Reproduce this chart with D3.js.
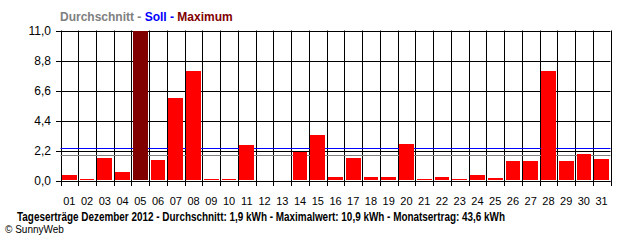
<!DOCTYPE html>
<html><head><meta charset="utf-8">
<script src="https://cdn.jsdelivr.net/npm/d3@7"></script>
<style>
html,body{margin:0;padding:0;background:#fff;}
svg{display:block;}
text{font-family:"Liberation Sans",Arial,sans-serif;}
</style></head>
<body><div id="chart"></div>
<script>
const days = ["01","02","03","04","05","06","07","08","09","10","11","12","13","14","15","16","17","18","19","20","21","22","23","24","25","26","27","28","29","30","31"];
const values = [0.34,0.1,1.59,0.56,10.9,1.44,6.0,7.96,0.1,0.1,2.54,0,0,2.08,3.28,0.19,1.64,0.24,0.24,2.67,0.1,0.24,0.1,0.34,0.17,1.42,1.42,7.96,1.42,1.93,1.57];
const yTicks = [0, 2.2, 4.4, 6.6, 8.8, 11.0];
const average = 1.9;
const target = 2.42;
const legendParts = [["Durchschnitt - ","#808080"],["Soll - ","#0000ff"],["Maximum","#800000"]];
const title = "Tageserträge Dezember 2012 - Durchschnitt: 1,9 kWh - Maximalwert: 10,9 kWh - Monatsertrag: 43,6 kWh";
const footer = "© SunnyWeb";

const W = 640, H = 240;
const svg = d3.select("#chart").append("svg").attr("width", W).attr("height", H);

const y = d3.scaleLinear().domain([0, 11]).range([180.5, 30.5]);
const xCell = d3.scaleBand().domain(days).range([60.5, 610.5]).padding(0);
const xBar = d3.scaleBand().domain(days).range([60.5, 610.5]).paddingInner(0.17).paddingOuter(0.085);

// horizontal grid
svg.append("g").selectAll("line").data(yTicks).join("line")
  .attr("x1", 56).attr("x2", 610.5)
  .attr("y1", d => Math.round(y(d)) + 0.5).attr("y2", d => Math.round(y(d)) + 0.5)
  .attr("stroke", "#000").attr("stroke-width", 1);

// vertical grid
const vx = days.map(d => xCell(d)).concat([xCell.range()[1]]);
svg.append("g").selectAll("line").data(vx).join("line")
  .attr("x1", d => Math.round(d) + 0.5).attr("x2", d => Math.round(d) + 0.5)
  .attr("y1", 30.5).attr("y2", 186)
  .attr("stroke", "#000").attr("stroke-width", 1);

// reference lines
svg.append("line").attr("x1", 60.5).attr("x2", 610.5)
  .attr("y1", Math.round(y(target)) + 0.5).attr("y2", Math.round(y(target)) + 0.5)
  .attr("stroke", "#0000ff").attr("stroke-width", 1);
svg.append("line").attr("x1", 60.5).attr("x2", 610.5)
  .attr("y1", Math.round(y(average)) + 0.5).attr("y2", Math.round(y(average)) + 0.5)
  .attr("stroke", "#808080").attr("stroke-width", 1);

// bars
const maxV = d3.max(values);
svg.append("g").attr("shape-rendering", "crispEdges").selectAll("rect").data(values).join("rect")
  .attr("x", (d, i) => xBar(days[i]))
  .attr("width", xBar.bandwidth())
  .attr("y", d => y(d) - 0.5)
  .attr("height", d => Math.max(0, y(0) - y(d)))
  .attr("fill", d => d === maxV ? "#800000" : "#ff0000");

// redraw baseline over bars
svg.append("line").attr("x1", 56).attr("x2", 610.5)
  .attr("y1", Math.round(y(0)) + 0.5).attr("y2", Math.round(y(0)) + 0.5)
  .attr("stroke", "#000");

// y labels
svg.append("g").selectAll("text").data(yTicks).join("text")
  .attr("x", 51).attr("y", d => y(d) + 4)
  .attr("text-anchor", "end").attr("font-size", 12)
  .text(d => d3.format(".1f")(d).replace(".", ","));

// x labels
svg.append("g").selectAll("text").data(days).join("text")
  .attr("x", d => xCell(d) + xCell.bandwidth() / 2).attr("y", 205)
  .attr("text-anchor", "middle").attr("font-size", 11)
  .text(d => d);

// legend
const leg = svg.append("text").attr("x", 60).attr("y", 21).attr("font-size", 12).attr("font-weight", "bold");
leg.selectAll("tspan").data(legendParts).join("tspan").attr("fill", d => d[1]).text(d => d[0]);

// title
svg.append("text").attr("x", 17).attr("y", 221).attr("font-size", 12.5).attr("font-weight", "bold")
  .attr("textLength", 488).attr("lengthAdjust", "spacingAndGlyphs").text(title);

// footer
svg.append("text").attr("x", 5).attr("y", 233).attr("font-size", 10).text(footer);
</script>
</body></html>
